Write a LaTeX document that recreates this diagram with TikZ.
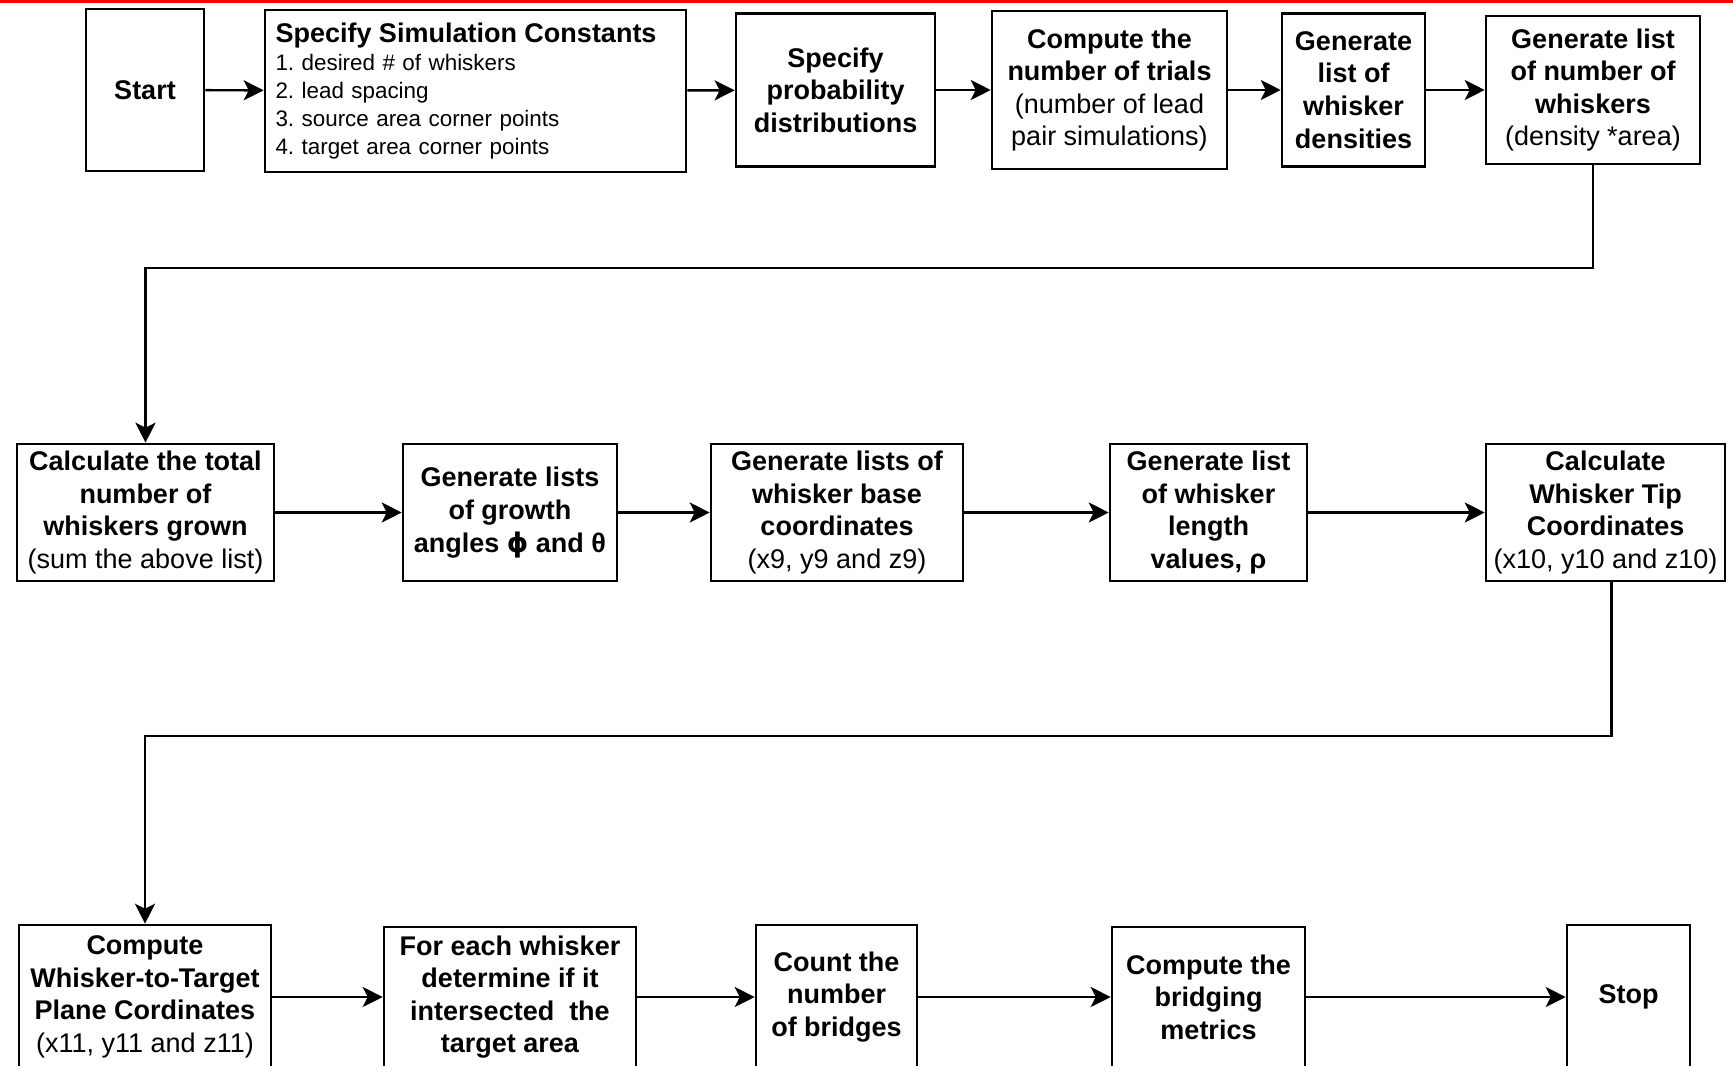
\documentclass[tikz,border=0pt]{standalone}
\usepackage{fontspec}
\setmainfont{Liberation Sans}
\newfontfamily\symfont{DejaVu Sans}
\usetikzlibrary{arrows.meta}

\tikzset{
  box/.style={draw, line width=1.3pt, inner sep=0pt, align=center,
    font={\fontsize{13.5}{16.3}\selectfont\bfseries}},
  listbox/.style={box, align=left, text width=200pt, inner xsep=5pt,
    font={\fontsize{11.2}{13.9}\selectfont\mdseries\frenchspacing}},
  arr/.style={line width=1.2pt, -{Stealth[length=10pt,width=10pt,inset=2.5pt]}}
}

\begin{document}
\begin{tikzpicture}[x=0.5pt,y=-0.5pt]
            \useasboundingbox (0,0) rectangle (1733,1065);
            \clip (0,0) rectangle (1733,1065);
            \fill[red] (0,0) rectangle (1733,3);
            % first row
            \node[box, minimum width=59pt, minimum height=81pt] (start) at (145,90) {Start};
            \node[listbox, minimum width=210.5pt, minimum height=81pt] (consts) at (475.5,91)
              {\mbox{\fontsize{13.5}{13.9}\selectfont\bfseries Specify Simulation Constants}\\\mbox{1. desired \# of whiskers}\\\mbox{2. lead spacing}\\\mbox{3. source area corner points}\\\mbox{4. target area corner points}};
            \node[box, minimum width=99.5pt, minimum height=76.5pt] (prob) at (835.5,90) {Specify\\probability\\distributions};
            \node[box, minimum width=117.5pt, minimum height=79pt] (trials) at (1109.5,90) {Compute the\\number of trials\\\mdseries(number of lead\\\mdseries pair simulations)};
            \node[box, minimum width=71.5pt, minimum height=76.5pt] (dens) at (1353.5,90) {Generate\\list of\\whisker\\densities};
            \node[box, minimum width=107pt, minimum height=74pt] (nwh) at (1593,90) {Generate list\\of number of\\whiskers\\\mdseries(density *area)};
            % second row
            \node[box, minimum width=128.5pt, minimum height=68.5pt] (total) at (145.5,512.5) {Calculate the total\\number of\\whiskers grown\\\mdseries(sum the above list)};
            \node[box, minimum width=107pt, minimum height=68.5pt] (growth) at (510,512.5) {Generate lists\\of growth\\angles {\symfont ϕ} and θ};
            \node[box, minimum width=126pt, minimum height=68.5pt] (base) at (837,512.5) {Generate lists of\\whisker base\\coordinates\\\mdseries(x9, y9 and z9)};
            \node[box, minimum width=98.5pt, minimum height=68.5pt] (length) at (1208.5,512.5) {Generate list\\of whisker\\length\\values, ρ};
            \node[box, minimum width=119.5pt, minimum height=68.5pt] (tip) at (1605.5,512.5) {Calculate\\Whisker Tip\\Coordinates\\\mdseries(x10, y10 and z10)};
            % third row
            \node[box, minimum width=126pt, minimum height=72pt] (wtt) at (145,997) {Compute\\Whisker-to-Target\\Plane Cordinates\\\mdseries(x11, y11 and z11)};
            \node[box, minimum width=126pt, minimum height=70pt] (each) at (510,997) {For each whisker\\determine if it\\intersected~ the\\target area};
            \node[box, minimum width=80.5pt, minimum height=72pt] (count) at (836.5,997) {Count the\\number\\of bridges};
            \node[box, minimum width=96.5pt, minimum height=70pt] (metr) at (1208.5,997) {Compute the\\bridging\\metrics};
            \node[box, minimum width=61.5pt, minimum height=72pt] (stop) at (1628.5,997) {Stop};
            % connectors
            \draw[arr] (start) -- (consts);
            \draw[arr] (consts) -- (prob);
            \draw[arr] (prob) -- (trials);
            \draw[arr] (trials) -- (dens);
            \draw[arr] (dens) -- (nwh);
            \coordinate (turnA) at (0,268);
            \draw[arr] (nwh.south) -- (nwh.south |- turnA) -| (total.north);
            \draw[arr] (total) -- (growth);
            \draw[arr] (growth) -- (base);
            \draw[arr] (base) -- (length);
            \draw[arr] (length) -- (tip);
            \coordinate (turnB) at (0,736);
            \draw[arr] ([xshift=3pt]tip.south) -- ([xshift=3pt]tip.south |- turnB) -| (wtt.north);
            \draw[arr] (wtt) -- (each);
            \draw[arr] (each) -- (count);
            \draw[arr] (count) -- (metr);
            \draw[arr] (metr) -- (stop);
        \end{tikzpicture}
\end{document}
